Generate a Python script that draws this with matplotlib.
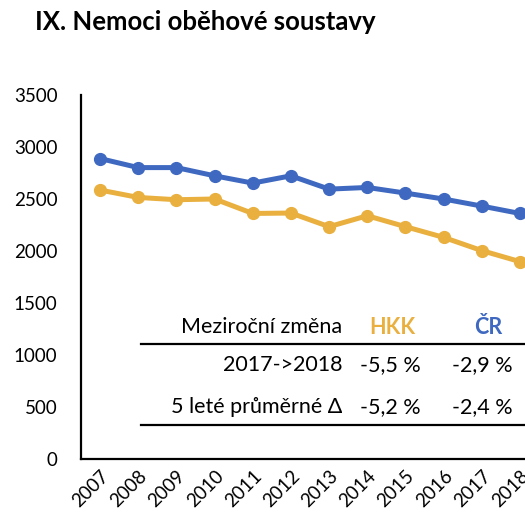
import matplotlib.pyplot as plt
from matplotlib.lines import Line2D

plt.rcParams['font.family'] = ['Lato', 'DejaVu Sans']

years = ['2007', '2008', '2009', '2010', '2011', '2012',
         '2013', '2014', '2015', '2016', '2017', '2018']
hkk = [2586, 2515, 2493, 2500, 2361, 2365, 2234, 2339, 2234, 2131, 2004, 1898]
cr = [2889, 2802, 2802, 2723, 2653, 2723, 2595, 2611, 2557, 2500, 2432, 2361]

table_head = ['Meziroční změna', 'HKK', 'ČR']
row_labels = ['2017->2018', '5 leté průměrné Δ']
hkk_change = ['-5,5 %', '-5,2 %']
cr_change = ['-2,9 %', '-2,4 %']

YELLOW = '#E9B040'
BLUE = '#3F69C0'

W = H = 525
fig = plt.figure(figsize=(5.25, 5.25), dpi=100)
# axes deliberately runs past the right edge, like the cropped original
ax = fig.add_axes([81 / W, 1 - 459 / H, 458 / W, 364 / H])

x = range(len(years))
ax.plot(x, hkk, color=YELLOW, lw=3.6, marker='o', ms=8.5, solid_capstyle='round')
ax.plot(x, cr, color=BLUE, lw=3.6, marker='o', ms=8.5, solid_capstyle='round')

ax.set_xlim(-0.5, len(years) - 0.5)
ax.set_ylim(0, 3500)
ax.set_yticks(range(0, 3501, 500))
ax.set_xticks(list(x))
ax.set_xticklabels(years, rotation=45, ha='right', rotation_mode='anchor')
ax.tick_params(length=0, labelsize=13.5, pad=6)
ax.tick_params(axis='y', pad=17)
for s in ['top', 'right']:
    ax.spines[s].set_visible(False)
for s in ['left', 'bottom']:
    ax.spines[s].set_linewidth(1.6)

fig.text(35 / W, 1 - 22 / H, 'IX. Nemoci oběhové soustavy', fontsize=18.5,
         fontweight='bold', va='center', ha='left')

# table with the changes
fs = 15.5
fig.text(342 / W, 1 - 327 / H, table_head[0], fontsize=fs, ha='right', va='center')
fig.text(392 / W, 1 - 327 / H, table_head[1], fontsize=fs, ha='center', va='center',
         color=YELLOW, fontweight='bold')
fig.text(488 / W, 1 - 327 / H, table_head[2], fontsize=fs, ha='center', va='center',
         color=BLUE, fontweight='bold')
for i, yy in enumerate([365, 407]):
    fig.text(342 / W, 1 - yy / H, row_labels[i], fontsize=fs, ha='right', va='center')
    fig.text(421 / W, 1 - yy / H, hkk_change[i], fontsize=fs, ha='right', va='center')
    fig.text(513 / W, 1 - yy / H, cr_change[i], fontsize=fs, ha='right', va='center')
for yy in [344, 425]:
    fig.add_artist(Line2D([141 / W, 1], [1 - yy / H, 1 - yy / H], color='black',
                          lw=1.6, transform=fig.transFigure))

fig.savefig('out.png', dpi=100)
